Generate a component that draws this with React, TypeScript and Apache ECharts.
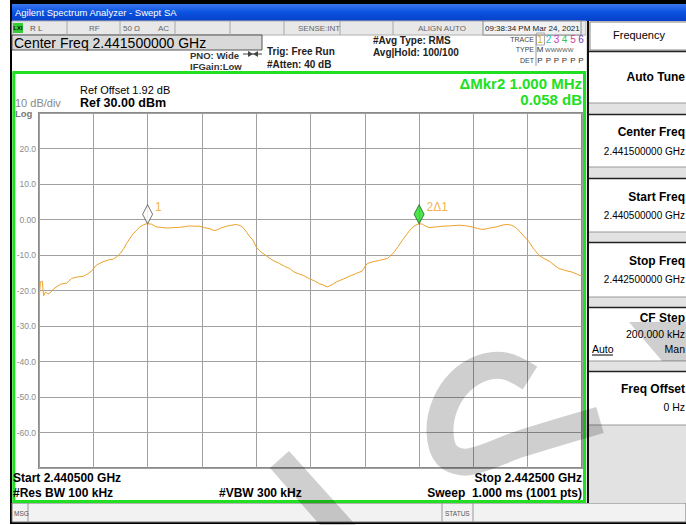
import React, { useEffect, useRef } from 'react';
import * as echarts from 'echarts';

const FONT = '"Liberation Sans", Arial, sans-serif';

// Frequency offset from start (2.440500 GHz), kHz, span 2000 kHz
const freqOffsetKHz = [
  1, 5, 12, 17, 24, 33, 42, 53, 66, 80, 102, 120, 140, 163, 180, 195, 212, 236, 255, 273,
  288, 300, 312, 322, 335, 347, 360, 371, 385, 396, 414, 433, 450, 470, 495, 518, 540, 555, 575, 592,
  610, 629, 645, 653, 670, 690, 710, 727, 740, 751, 765, 776, 788, 800, 815, 837, 861, 886, 905, 923,
  940, 959, 975, 996, 1015, 1033, 1048, 1062, 1078, 1095, 1120, 1143, 1165, 1191, 1200, 1209, 1230, 1254, 1283, 1296,
  1309, 1323, 1338, 1355, 1371, 1385, 1400, 1412, 1425, 1437, 1460, 1485, 1515, 1548, 1575, 1595, 1615, 1632, 1650, 1668,
  1684, 1705, 1724, 1740, 1757, 1772, 1790, 1805, 1822, 1842, 1860, 1879, 1897, 1915, 1940, 1963, 1982, 2000,
];
// Trace level, dBm
const levelDbm = [
  -22.5, -17.6, -17.4, -21.5, -20.4, -21.0, -20.6, -19.6, -18.9, -18.2, -17.9, -16.6, -16.2, -16.0, -15.3, -14.4, -12.8, -11.9, -11.4, -11.2,
  -10.4, -9.5, -8.2, -6.8, -5.3, -4.0, -3.0, -2.1, -1.5, -1.2, -1.3, -2.1, -2.2, -2.4, -2.3, -2.2, -2.0, -1.8, -1.9, -1.9,
  -2.3, -2.6, -3.1, -3.0, -2.4, -1.9, -1.6, -1.4, -1.7, -2.2, -3.6, -4.8, -5.8, -7.7, -9.0, -10.2, -11.5, -12.4, -13.2, -13.8,
  -14.8, -15.4, -15.8, -16.7, -17.3, -18.1, -18.5, -19.0, -18.4, -17.6, -16.8, -16.0, -15.3, -14.5, -13.3, -12.4, -11.9, -11.5, -11.0, -10.1,
  -9.1, -7.6, -5.9, -4.1, -2.6, -1.7, -1.2, -1.3, -1.9, -2.3, -2.1, -1.9, -1.8, -1.6, -1.8, -2.1, -2.5, -2.8, -2.6, -2.3,
  -2.1, -1.6, -1.4, -1.6, -2.3, -3.5, -5.0, -6.3, -8.3, -10.1, -11.0, -11.7, -12.8, -13.8, -14.4, -14.8, -15.4, -16.0,
];

const markerFreqKHz = [400, 1400];
const markerLevel = [-1.2, -1.2];
const markerNames = ['1', '2Δ1'];

const yHiddenLabels = [30, -70];

const traceNumbers = ['1', '2', '3', '4', '5', '6'];
const traceColors = ['#e0b000', '#28c0c8', '#c23cc2', '#38c060', '#d0409a', '#7040c8'];

type Opt = { bold?: boolean; color?: string; align?: string; family?: string; z?: number };
function txt(x: number, y: number, text: string, size: number, o: Opt = {}) {
  const align = o.align || 'left';
  return {
    type: 'text',
    x,
    y,
    z: o.z ?? 50,
    silent: true,
    style: {
      text,
      font: `${o.bold ? 'bold ' : ''}${size}px ${o.family || FONT}`,
      fill: o.color || '#000',
      textAlign: align,
      textVerticalAlign: 'middle',
      align,
      verticalAlign: 'middle',
    },
  };
}
function rect(x: number, y: number, w: number, h: number, fill: string, stroke?: string, lw = 1, z = 1) {
  return {
    type: 'rect',
    z,
    silent: true,
    shape: { x, y, width: w, height: h },
    style: { fill, stroke: stroke || null, lineWidth: lw },
  };
}
function line(x1: number, y1: number, x2: number, y2: number, stroke: string, lw = 1, z = 2) {
  return { type: 'line', z, silent: true, shape: { x1, y1, x2, y2 }, style: { stroke, lineWidth: lw } };
}

function buildGraphics() {
  const g: any[] = [];
  // window frame
  g.push(rect(10, 0, 676, 4, '#000'));
  g.push(rect(10, 0, 2, 524, '#000'));
  g.push(rect(10, 522, 676, 2, '#000'));
  // title bar
  g.push({
    type: 'rect', z: 1, silent: true,
    shape: { x: 12, y: 4, width: 674, height: 17 },
    style: {
      fill: new echarts.graphic.LinearGradient(0, 0, 0, 1, [
        { offset: 0, color: '#3a78f0' },
        { offset: 0.5, color: '#0a52e0' },
        { offset: 1, color: '#0640c8' },
      ]),
    },
  });
  g.push(txt(15, 12.5, 'Agilent Spectrum Analyzer - Swept SA', 9.5, { color: '#fff' }));
  // status row
  g.push(rect(12, 21, 574, 14, '#e8e8e8', '#b0b0b0'));
  [67, 120, 175, 230, 284, 340, 393].forEach((x) => g.push(line(x, 21, x, 35, '#a8a8a8')));
  g.push(rect(483, 21, 98, 14, '#f2f2f2', '#888'));
  g.push(rect(13, 23, 10, 10, '#33cc33'));
  g.push(txt(18, 28, 'LXI', 6, { bold: true, align: 'center', color: '#111' }));
  g.push(txt(30, 28, 'R L', 8, { color: '#555' }));
  g.push(txt(89, 28, 'RF', 8, { color: '#666' }));
  g.push(txt(123, 28, '50 Ω', 8, { color: '#666' }));
  g.push(txt(158, 28, 'AC', 8, { color: '#666' }));
  g.push(txt(298, 28, 'SENSE:INT', 8, { color: '#666' }));
  g.push(txt(418, 28, 'ALIGN AUTO', 8, { color: '#666' }));
  g.push(txt(485, 28, '09:38:34 PM Mar 24, 2021', 8, { color: '#222' }));
  // centre freq box
  g.push(rect(12, 35, 250, 15, '#d9d9d9', '#555'));
  g.push(txt(14, 42.5, 'Center Freq 2.441500000 GHz', 14, { color: '#000' }));
  g.push(txt(190, 55, 'PNO: Wide', 9.5, { bold: true, color: '#333' }));
  g.push(txt(190, 66, 'IFGain:Low', 9.5, { bold: true, color: '#333' }));
  g.push(line(243, 54, 262, 54, '#444'));
  g.push({ type: 'polygon', z: 3, silent: true, shape: { points: [[248, 51], [253, 54], [248, 57]] }, style: { fill: '#444' } });
  g.push({ type: 'polygon', z: 3, silent: true, shape: { points: [[258, 51], [253, 54], [258, 57]] }, style: { fill: '#444' } });
  g.push(txt(267, 51, 'Trig: Free Run', 10, { bold: true, color: '#222' }));
  g.push(txt(267, 64, '#Atten: 40 dB', 10, { bold: true, color: '#222' }));
  g.push(txt(373, 40, '#Avg Type: RMS', 10, { bold: true, color: '#222' }));
  g.push(txt(373, 52, 'Avg|Hold: 100/100', 10, { bold: true, color: '#222' }));
  g.push(txt(534, 39, 'TRACE', 7, { color: '#444', align: 'right' }));
  g.push(txt(534, 49, 'TYPE', 7, { color: '#444', align: 'right' }));
  g.push(txt(534, 60, 'DET', 7, { color: '#444', align: 'right' }));
  g.push(line(536, 34, 536, 66, '#999'));
  const tx = [540, 548.5, 556.5, 564.5, 573, 581];
  g.push(rect(536.5, 33, 8, 12, 'none', '#aaa'));
  traceNumbers.forEach((n, i) => {
    g.push(txt(tx[i], 39.5, n, 10, { color: traceColors[i], align: 'center' }));
    g.push(txt(tx[i], 60, 'P', 8, { color: '#333', align: 'center' }));
  });
  g.push(txt(540, 49.5, 'M', 8, { color: '#333', align: 'center' }));
  g.push(txt(545, 49.5, 'WWWWW', 6, { color: '#555' }));

  // plot area frame (green)
  g.push({ type: 'rect', z: 5, silent: true, shape: { x: 13.8, y: 72.5, width: 570.7, height: 429 }, style: { fill: null, stroke: '#21e021', lineWidth: 3 } });
  g.push(txt(80, 90, 'Ref Offset 1.92 dB', 11, { color: '#000' }));
  g.push(txt(80, 103, 'Ref 30.00 dBm', 12.5, { bold: true, color: '#000' }));
  g.push(txt(15, 103, '10 dB/div', 11, { color: '#888' }));
  g.push(txt(15, 113.5, 'Log', 9.5, { bold: true, color: '#777' }));
  g.push(txt(582, 83, 'ΔMkr2 1.000 MHz', 15, { bold: true, color: '#21e021', align: 'right' }));
  g.push(txt(582, 99, '0.058 dB', 15, { bold: true, color: '#21e021', align: 'right' }));
  g.push(txt(13, 478, 'Start 2.440500 GHz', 12, { bold: true }));
  g.push(txt(13, 493, '#Res BW 100 kHz', 12, { bold: true }));
  g.push(txt(219, 493, '#VBW 300 kHz', 12, { bold: true }));
  g.push(txt(582, 478, 'Stop 2.442500 GHz', 12, { bold: true, align: 'right' }));
  g.push(txt(582, 493, 'Sweep  1.000 ms (1001 pts)', 12, { bold: true, align: 'right' }));

  // message bar
  g.push(rect(12, 503, 674, 19, '#f2f2f2', '#777'));
  g.push(line(28, 503, 28, 522, '#999'));
  g.push(line(442, 503, 442, 522, '#999'));
  g.push(line(473, 503, 473, 522, '#999'));
  g.push(txt(14, 513, 'MSG', 6.5, { color: '#555' }));
  g.push(txt(445, 513, 'STATUS', 6.5, { color: '#555' }));

  // right softkey panel
  g.push(rect(586, 21, 100, 482, '#e2e2e2'));
  g.push(line(588, 21, 588, 503, '#111', 2, 3));
  g.push(rect(590, 22, 97, 28, '#fff', '#888'));
  g.push(txt(613, 35, 'Frequency', 11));
  const buttons = [
    [51, 103], [114, 167], [178, 232], [242, 297], [307, 361], [371, 425],
  ];
  buttons.forEach(([y0, y1]) => {
    g.push(rect(589, y0, 98, y1 - y0, '#fff'));
    g.push(line(589, y0 + 0.5, 686, y0 + 0.5, '#222', 1.5, 3));
    g.push(line(589, y1, 686, y1, '#999', 1, 3));
  });
  const R = 685;
  g.push(txt(R, 77, 'Auto Tune', 12, { bold: true, align: 'right' }));
  g.push(txt(R, 132, 'Center Freq', 12, { bold: true, align: 'right' }));
  g.push(txt(R, 151, '2.441500000 GHz', 10, { align: 'right' }));
  g.push(txt(R, 197, 'Start Freq', 12, { bold: true, align: 'right' }));
  g.push(txt(R, 215, '2.440500000 GHz', 10, { align: 'right' }));
  g.push(txt(R, 261, 'Stop Freq', 12, { bold: true, align: 'right' }));
  g.push(txt(R, 279, '2.442500000 GHz', 10, { align: 'right' }));
  g.push(txt(R, 318, 'CF Step', 12, { bold: true, align: 'right' }));
  g.push(txt(R, 334, '200.000 kHz', 10.5, { align: 'right' }));
  g.push(txt(592, 349, 'Auto', 10.5));
  g.push(line(592, 355, 613, 355, '#000', 1, 51));
  g.push(txt(R, 349, 'Man', 10.5, { align: 'right' }));
  g.push(txt(R, 389, 'Freq Offset', 12, { bold: true, align: 'right' }));
  g.push(txt(R, 407, '0 Hz', 10.5, { align: 'right' }));

  // watermark (translucent grey)
  const wm = 'rgba(0,0,0,0.19)';
  g.push({ type: 'polygon', z: 100, silent: true, shape: { points: [[270, 468], [289, 451], [362, 532], [326, 532]] }, style: { fill: wm } });
  g.push({
    type: 'polyline', z: 100, silent: true,
    shape: {
      points: [[530, 378], [505, 366], [482, 368], [460, 382], [445, 405], [440, 432], [447, 455], [468, 462], [520, 444], [600, 420]],
      smooth: 0.35,
    },
    style: { stroke: wm, lineWidth: 27, fill: null, lineCap: 'butt', lineJoin: 'round' },
  });
  g.push({ type: 'polygon', z: 100, silent: true, shape: { points: [[629, 322], [686, 322], [686, 361], [662, 361]] }, style: { fill: wm } });
  return g;
}

export default function App() {
  const ref = useRef<HTMLDivElement>(null);
  useEffect(() => {
    document.body.style.margin = '0';
    const chart = echarts.init(ref.current!, null, { renderer: 'svg', width: 686, height: 525 });
    const option: any = {
      animation: false,
      backgroundColor: '#fff',
      grid: { left: 39, top: 113, width: 543, height: 355, show: true, borderColor: '#8a8a8a', borderWidth: 2, backgroundColor: 'transparent' },
      xAxis: {
        type: 'value', min: 0, max: 2000, interval: 200,
        axisLabel: { show: false }, axisLine: { show: false }, axisTick: { show: false },
        splitLine: { show: true, lineStyle: { color: '#a0a0a0', width: 1 } },
      },
      yAxis: {
        type: 'value', min: -70, max: 30, interval: 10,
        axisLine: { show: false }, axisTick: { show: false },
        axisLabel: {
          margin: 3, color: '#8c8c8c', fontSize: 8.5, fontFamily: FONT,
          formatter: (v: number) => (yHiddenLabels.includes(v) ? '' : v === 0 ? '0.00' : v.toFixed(1)),
        },
        splitLine: { show: true, lineStyle: { color: '#a0a0a0', width: 1 } },
      },
      series: [
        {
          type: 'line',
          data: freqOffsetKHz.map((f, i) => [f, levelDbm[i]]),
          symbol: 'none',
          lineStyle: { color: '#eba12a', width: 1 },
          z: 3,
          silent: true,
        },
        {
          type: 'scatter',
          z: 4,
          silent: true,
          symbol: 'diamond',
          symbolSize: [10, 19],
          symbolOffset: [0, '-50%'],
          data: markerFreqKHz.map((f, i) => ({
            name: markerNames[i],
            value: [f, markerLevel[i]],
            itemStyle: i === 0
              ? { color: '#ffffff', borderColor: '#555', borderWidth: 1 }
              : { color: '#22dd22', borderColor: '#226622', borderWidth: 1 },
          })),
          label: {
            show: true, position: 'right', distance: 2, offset: [0, -7],
            formatter: '{b}', color: '#f0a020', fontSize: 12, fontFamily: FONT,
          },
        },
      ],
      graphic: { elements: buildGraphics() },
    };
    chart.setOption(option);
    return () => chart.dispose();
  }, []);
  return <div ref={ref} style={{ width: 686, height: 525, position: 'absolute', left: 0, top: 0 }} />;
}
